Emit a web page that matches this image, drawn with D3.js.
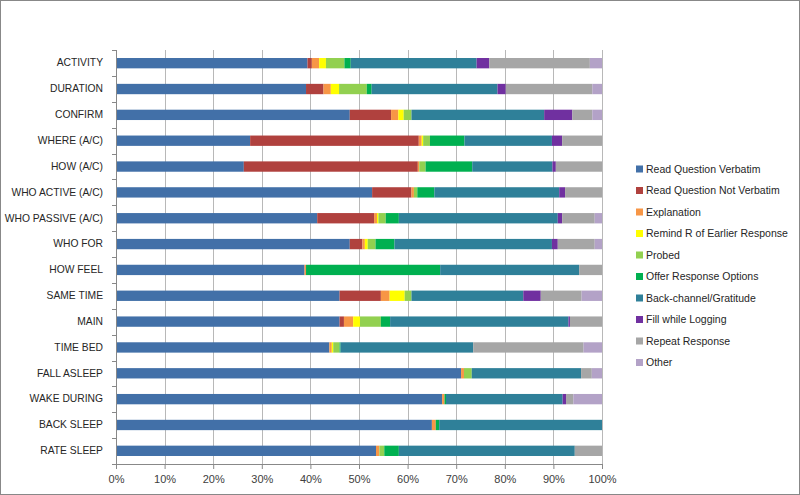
<!DOCTYPE html>
<html><head><meta charset="utf-8">
<script src="https://cdn.jsdelivr.net/npm/d3@7"></script>
<style>body{margin:0;background:#fff}svg{display:block;font-family:"Liberation Sans",Arial,sans-serif}</style>
</head><body><svg id="c" width="800" height="495"></svg>
<script>
const categories = ["ACTIVITY","DURATION","CONFIRM","WHERE (A/C)","HOW (A/C)","WHO ACTIVE (A/C)","WHO PASSIVE (A/C)","WHO FOR","HOW FEEL","SAME TIME","MAIN","TIME BED","FALL ASLEEP","WAKE DURING","BACK SLEEP","RATE SLEEP"];
const seriesNames = ["Read Question Verbatim","Read Question Not Verbatim","Explanation","Remind R of Earlier Response","Probed","Offer Response Options","Back-channel/Gratitude","Fill while Logging","Repeat Response","Other"];
const seriesColors = ["#4270A8","#B0413E","#F79646","#FFFF00","#92D050","#00B050","#2F8099","#7030A0","#A6A6A6","#B3A2C7"];
// values per series, one per category (percent)
const readVerbatim    = [39.4,39.1,48.1,27.6,26.3,52.7,41.4,48.1,38.8,46.0,46.0,43.9,71.0,67.1,65.0,53.5];
const readNotVerbatim = [0.9,3.6,8.5,34.7,35.8,8.1,11.7,2.6,0,8.5,0.9,0,0,0,0,0];
const explanation     = [1.5,1.5,1.5,0.6,0.3,0.5,0.6,0.5,0.3,1.8,1.9,0.5,0.6,0.5,0.8,0.7];
const remind          = [1.4,1.7,1.1,0.3,0,0,0.3,0.6,0,3.1,1.4,0.3,0,0,0,0];
const probed          = [3.8,5.7,1.6,1.4,1.3,0.7,1.5,1.6,0,1.4,4.3,1.3,1.6,0,0,1.0];
const offerOptions    = [1.3,1.0,0,7.1,9.6,3.5,2.7,3.9,27.6,0,1.9,0.2,0,0.3,0.7,3.0];
const backChannel     = [25.9,25.9,27.3,18.0,16.5,25.7,32.7,32.4,28.6,23.0,36.7,27.3,22.5,24.0,33.5,36.2];
const fillLogging     = [2.6,1.7,5.8,2.1,0.7,1.2,0.9,1.2,0,3.6,0.3,0,0,0.7,0,0];
const repeatResponse  = [20.7,17.8,4.1,8.2,9.5,7.6,6.7,7.6,4.7,8.4,6.6,22.7,2.2,1.5,0,5.6];
const other           = [2.5,2.0,2.0,0,0,0,1.5,1.5,0,4.2,0,3.8,2.1,5.9,0,0];
const xTickLabels = ["0%","10%","20%","30%","40%","50%","60%","70%","80%","90%","100%"];

const allSeries = [readVerbatim,readNotVerbatim,explanation,remind,probed,offerOptions,backChannel,fillLogging,repeatResponse,other];
const rows = categories.map((c,i)=>{const r={cat:c};seriesNames.forEach((s,j)=>r[s]=allSeries[j][i]);return r;});
const stack = d3.stack().keys(seriesNames).offset(d3.stackOffsetExpand)(rows);

const svg = d3.select("#c");
svg.append("rect").attr("x",0.5).attr("y",0.5).attr("width",799).attr("height",494).attr("fill","#fff").attr("stroke","#888");

const pL=116,pR=602,pT=50,pB=464;
const x = d3.scaleLinear().domain([0,1]).range([pL,pR]);
const y = d3.scaleBand().domain(categories).range([pT,pB]).paddingInner(0.6).paddingOuter(0.31);
const yb = d3.scaleBand().domain(categories).range([pT,pB]);

// gridlines
svg.append("g").selectAll("line").data(d3.range(1,11)).join("line")
  .attr("x1",d=>Math.round(x(d/10))+0.5).attr("x2",d=>Math.round(x(d/10))+0.5)
  .attr("y1",pT).attr("y2",pB).attr("stroke","#B8B8B8").attr("stroke-width",1);

// bars
svg.append("g").selectAll("g").data(stack).join("g")
  .attr("fill",(d,i)=>seriesColors[i])
  .selectAll("rect").data(d=>d).join("rect")
  .attr("x",d=>x(d[0])).attr("width",d=>Math.max(0,x(d[1])-x(d[0])))
  .attr("y",d=>y(d.data.cat)).attr("height",y.bandwidth());

// x axis
const xa = svg.append("g").attr("transform",`translate(0,${pB})`)
  .call(d3.axisBottom(x).tickValues(d3.range(0,11).map(d=>d/10)).tickFormat((d,i)=>xTickLabels[i]).tickSize(5).tickPadding(6));
xa.select(".domain").attr("stroke","#888");
xa.selectAll(".tick line").attr("stroke","#888");
xa.selectAll("text").attr("font-size","11px").attr("fill","#404040").attr("font-family","Liberation Sans, Arial, sans-serif");

// y axis
const ya = svg.append("g").attr("transform",`translate(${pL},0)`)
  .call(d3.axisLeft(y).tickSize(0).tickPadding(13));
ya.select(".domain").remove();
ya.selectAll("text").attr("font-size","10.3px").attr("fill","#262626").attr("font-family","Liberation Sans, Arial, sans-serif");
svg.append("line").attr("x1",pL+0.5).attr("x2",pL+0.5).attr("y1",pT).attr("y2",pB).attr("stroke","#888");
svg.append("g").selectAll("line").data(d3.range(0,17)).join("line")
  .attr("x1",pL-4).attr("x2",pL).attr("y1",d=>Math.round(pT+d*yb.step())+0.5).attr("y2",d=>Math.round(pT+d*yb.step())+0.5).attr("stroke","#888");

// legend
const lg = svg.append("g").selectAll("g").data(seriesNames).join("g")
  .attr("transform",(d,i)=>`translate(636,${169+i*21.5})`);
lg.append("rect").attr("x",0).attr("y",-3.5).attr("width",7).attr("height",7).attr("fill",(d,i)=>seriesColors[i]);
lg.append("text").attr("x",10).attr("y",0).attr("dy","0.35em").attr("font-size","10.5px").attr("fill","#262626").text(d=>d);
</script></body></html>
